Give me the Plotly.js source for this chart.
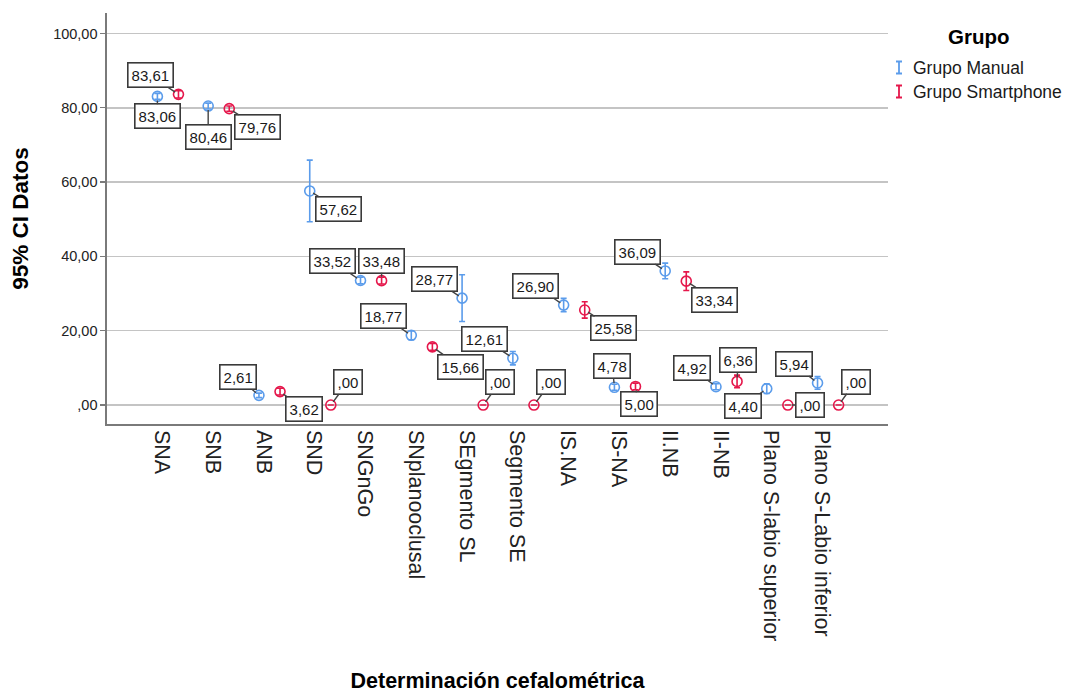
<!DOCTYPE html>
<html>
<head>
<meta charset="utf-8">
<script src="https://cdn.plot.ly/plotly-3.0.1.min.js"></script>
<style>
  html, body { margin: 0; padding: 0; background: #fff; }
  #chart { width: 1068px; height: 693px; }
</style>
</head>
<body>
<div id="chart"></div>
<script>
// ---- data ----
const categories = ['SNA', 'SNB', 'ANB', 'SND', 'SNGnGo', 'SNplanooclusal', 'SEgmento SL',
  'Segmento SE', 'IS.NA', 'IS-NA', 'II.NB', 'II-NB', 'Plano S-labio superior', 'Plano S-Labio inferior'];
const manualMean = [83.06, 80.46, 2.61, 57.62, 33.52, 18.77, 28.77, 12.61, 26.90, 4.78, 36.09, 4.92, 4.40, 5.94];
const manualCI   = [0.8, 0.8, 0.6, 8.3, 0.9, 1.2, 6.3, 1.8, 1.8, 0.8, 2.1, 0.8, 1.3, 1.7];
const smartMean  = [83.61, 79.76, 3.62, 0.00, 33.48, 15.66, 0.00, 0.00, 25.58, 5.00, 33.34, 6.36, 0.00, 0.00];
const smartCI    = [1.0, 0.7, 0.9, 0, 0.9, 0.9, 0, 0, 2.2, 0.9, 2.5, 1.7, 0, 0];
const seriesNames = ['Grupo Manual', 'Grupo Smartphone'];
const yTickVals = [0, 20, 40, 60, 80, 100];

// ---- style / layout ----
const colors = ['#5b9ceb', '#e5174b'];
const FONT = 'Liberation Sans, Arial, Helvetica, sans-serif';
const groupOffset = 0.2075;
// label box offsets (pixels) relative to each point: [ax, ay]
const manualLabelOffsets = [[0, 20], [0, 31], [-21, -18], [29, 18], [-28, -19], [-28, -19], [-28, -19],
  [-28, -19], [-28, -19], [-2, -21], [-28, -19], [-24, -19], [-24, 17], [-24, -19]];
const smartLabelOffsets = [[-28, -19], [28, 18.5], [24, 17.5], [17, -23], [0, -20], [28, 20], [17, -23],
  [17, -23], [29, 18.5], [3, 18], [28, 18.5], [1, -21], [22, 0], [17, -23.5]];

function fmt(v) {
  let s = v.toFixed(2).replace('.', ',');
  if (s.startsWith('0,')) s = s.slice(1);
  return s;
}

const M = { l: 107, r: 180, t: 13, b: 269 };
const W = 1068, H = 693;
const PW = W - M.l - M.r, PH = H - M.t - M.b;
const px = (x) => (x - M.l) / PW;
const py = (y) => (H - M.b - y) / PH;

function trace(mean, ci, i) {
  return {
    type: 'scatter', mode: 'markers', name: seriesNames[i],
    x: categories, y: mean, offsetgroup: String(i),
    marker: { symbol: 'circle-open', size: 10, color: colors[i], line: { width: 1.6, color: colors[i] } },
    error_y: { type: 'data', array: ci, symmetric: true, visible: true, color: colors[i], thickness: 1.6, width: 3 },
    showlegend: false, hoverinfo: 'skip'
  };
}
const data = [trace(manualMean, manualCI, 0), trace(smartMean, smartCI, 1)];

const annotations = [];
function addLabels(mean, offs, sign) {
  mean.forEach((v, i) => {
    annotations.push({
      x: i + sign * groupOffset, y: v, xref: 'x', yref: 'y',
      text: fmt(v), showarrow: true, arrowhead: 0, arrowwidth: 1.4, arrowcolor: '#444',
      standoff: 4, ax: offs[i][0], ay: offs[i][1],
      bordercolor: '#3a3a3a', borderwidth: 1.6, borderpad: 3, bgcolor: '#ffffff',
      font: { family: FONT, size: 15, color: '#1a1a1a' }
    });
  });
}
addLabels(manualMean, manualLabelOffsets, -1);
addLabels(smartMean, smartLabelOffsets, 1);

// legend (custom drawn)
annotations.push({ xref: 'paper', yref: 'paper', x: px(979), y: py(36), text: '<b>Grupo</b>',
  showarrow: false, xanchor: 'center', yanchor: 'middle', font: { family: FONT, size: 20.5, color: '#000' } });
const shapes = [];
const legendY = [67.5, 91.5];
seriesNames.forEach((n, i) => {
  const cx = 899, cy = legendY[i];
  shapes.push({ type: 'path', xref: 'paper', yref: 'paper',
    path: `M${px(cx - 3)},${py(cy - 6)} L${px(cx + 3)},${py(cy - 6)} M${px(cx)},${py(cy - 6)} L${px(cx)},${py(cy + 6)} M${px(cx - 3)},${py(cy + 6)} L${px(cx + 3)},${py(cy + 6)}`,
    line: { color: colors[i], width: 1.8 } });
  annotations.push({ xref: 'paper', yref: 'paper', x: px(911), y: py(cy), text: n, showarrow: false,
    xanchor: 'left', yanchor: 'middle', font: { family: FONT, size: 17.5, color: '#1a1a1a' } });
});

const layout = {
  width: W, height: H, margin: M,
  paper_bgcolor: '#fff', plot_bgcolor: '#fff',
  showlegend: false,
  scattermode: 'group', scattergap: 1 - 4 * groupOffset,
  xaxis: {
    type: 'category', range: [-1.2, 14.18],
    showgrid: false, zeroline: false,
    showline: true, linecolor: '#7a7a7a', linewidth: 1.6,
    ticks: '', tickangle: 90, ticklabelshift: -6,
    tickfont: { family: FONT, size: 21.5, color: '#222' },
    title: { text: '<b>Determinación cefalométrica</b>', font: { family: FONT, size: 21.5, color: '#000' }, standoff: 36 }
  },
  yaxis: {
    range: [-5.1, 105.5],
    tickvals: yTickVals, ticktext: yTickVals.map(fmt),
    showgrid: true, gridcolor: '#c4c4c4', gridwidth: 1.5, zeroline: false,
    showline: true, linecolor: '#7a7a7a', linewidth: 1.6,
    ticks: 'outside', ticklen: 5, tickcolor: '#7a7a7a', tickwidth: 1.2,
    tickfont: { family: FONT, size: 14.5, color: '#222' },
    title: { text: '<b>95% CI Datos</b>', font: { family: FONT, size: 22.5, color: '#000' }, standoff: 18 }
  },
  annotations: annotations,
  shapes: shapes
};

Plotly.newPlot('chart', data, layout, { displayModeBar: false, staticPlot: true });
</script>
</body>
</html>
